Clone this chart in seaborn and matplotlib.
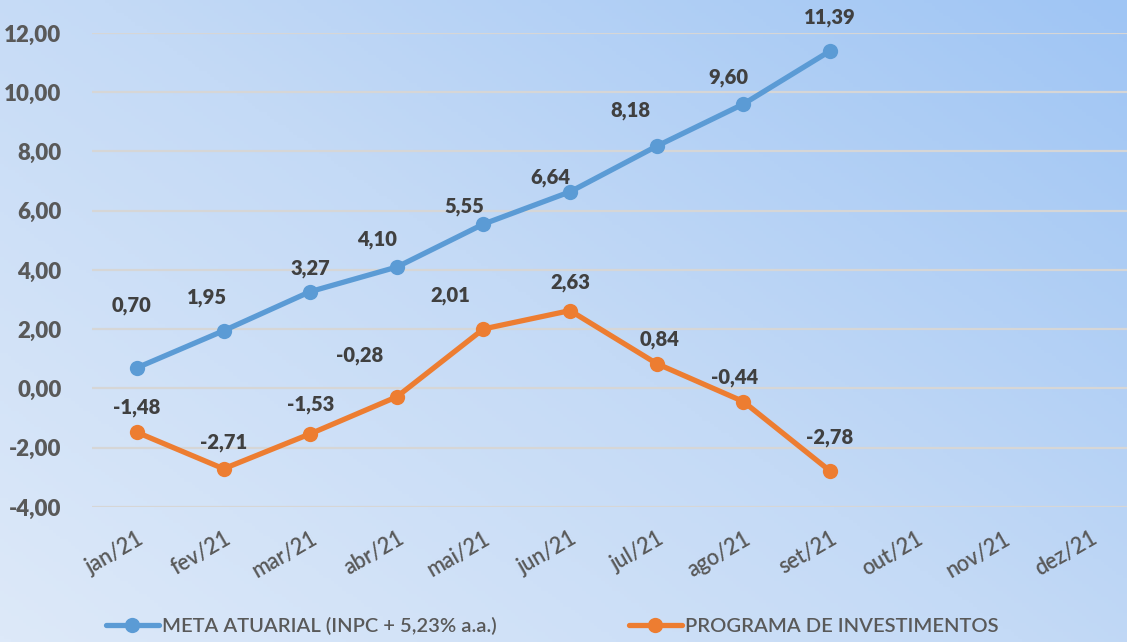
import numpy as np
import pandas as pd
import matplotlib
matplotlib.use("Agg")
import matplotlib.pyplot as plt
import seaborn as sns
from matplotlib.colors import LinearSegmentedColormap

# Chart data
months = ["jan/21", "fev/21", "mar/21", "abr/21", "mai/21", "jun/21",
          "jul/21", "ago/21", "set/21", "out/21", "nov/21", "dez/21"]
meta_atuarial = [0.70, 1.95, 3.27, 4.10, 5.55, 6.64, 8.18, 9.60, 11.39]
programa_inv = [-1.48, -2.71, -1.53, -0.28, 2.01, 2.63, 0.84, -0.44, -2.78]
series_names = ["META ATUARIAL (INPC + 5,23% a.a.)", "PROGRAMA DE INVESTIMENTOS"]
y_ticks = [-4, -2, 0, 2, 4, 6, 8, 10, 12]

# label offsets (points) for the data labels
meta_offsets = [(-4, 45), (-12, 24), (0, 17), (-14, 20), (-14, 13), (-14, 10),
                (-19, 26), (-11, 19), (0, 24)]
prog_offsets = [(0, 18), (0, 19), (0, 21), (-27, 30), (-24, 24), (0, 20),
                (2, 17), (-6, 17), (0, 24)]

BLUE = "#5b9bd5"
ORANGE = "#ed7d31"
TEXT = "#595959"

sns.set_theme(style="white")
plt.rcParams["font.family"] = ["Lato", "DejaVu Sans"]

fig = plt.figure(figsize=(11.27, 6.42), dpi=100)

# gradient background (light bottom-left -> deeper blue top-right)
bg = fig.add_axes([0, 0, 1, 1], zorder=0)
gx, gy = np.meshgrid(np.linspace(0, 1, 300), np.linspace(0, 1, 200))
grad = np.clip(0.55 * gx + 0.45 * gy, 0, 1)
cmap = LinearSegmentedColormap.from_list("bg", ["#dde9f9", "#c4daf6", "#9fc5f4"])
bg.imshow(grad, cmap=cmap, origin="lower", aspect="auto", extent=[0, 1, 0, 1])
bg.axis("off")

ax = fig.add_axes([0.0816, 0.2103, 0.9184, 0.7383], zorder=1)
ax.set_facecolor("none")

df = pd.DataFrame({
    "mes": months[:len(meta_atuarial)] * 2,
    "valor": meta_atuarial + programa_inv,
    "serie": [series_names[0]] * len(meta_atuarial) + [series_names[1]] * len(programa_inv),
})
df["pos"] = [months.index(m) for m in df["mes"]]

sns.lineplot(data=df, x="pos", y="valor", hue="serie", palette=[BLUE, ORANGE],
             marker="o", markersize=11, markeredgewidth=0, linewidth=3.8,
             ax=ax, zorder=3)

for vals, offs in [(meta_atuarial, meta_offsets), (programa_inv, prog_offsets)]:
    for i, (v, off) in enumerate(zip(vals, offs)):
        ax.annotate(f"{v:.2f}".replace(".", ","), (i, v), xytext=off,
                    textcoords="offset points", ha="center", va="center",
                    fontsize=14.5, fontweight=800, color="#404040", zorder=4)

ax.set_xlim(-0.52, 11.43)
ax.set_ylim(-4, 12)
ax.set_xticks(range(len(months)))
ax.set_xticklabels(months, rotation=30, ha="right", rotation_mode="anchor",
                   fontsize=15.5, fontweight=600, color=TEXT)
ax.set_yticks(y_ticks)
ax.set_yticklabels([f"{t:.2f}".replace(".", ",") for t in y_ticks],
                   fontsize=16, fontweight=800, color=TEXT)
ax.tick_params(axis="x", length=0, pad=15)
ax.tick_params(axis="y", length=0, pad=22)
ax.yaxis.grid(True, color="#d6d6d6", linewidth=1.6)
ax.xaxis.grid(False)
ax.set_axisbelow(True)
for s in ax.spines.values():
    s.set_visible(False)
ax.set_xlabel("")
ax.set_ylabel("")

handles, labels = ax.get_legend_handles_labels()
leg = ax.legend(handles, labels, loc="center", bbox_to_anchor=(0.49, 0.025),
                bbox_transform=fig.transFigure, ncol=2, frameon=False,
                prop={"family": ["Lato", "DejaVu Sans"], "weight": 600, "size": 14.5},
                handlelength=2.6, columnspacing=6.6, handletextpad=0.15)
for t in leg.get_texts():
    t.set_color(TEXT)

fig.savefig("out.png", dpi=100)
